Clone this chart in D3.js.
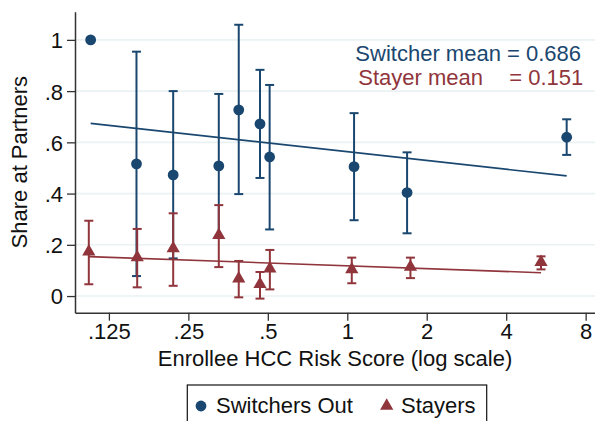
<!DOCTYPE html>
<html>
<head>
<meta charset="utf-8">
<script src="https://cdn.jsdelivr.net/npm/d3@7"></script>
<style>
  html, body { margin: 0; padding: 0; background: #fff; }
  svg { display: block; font-family: "Liberation Sans", Arial, Helvetica, sans-serif; }
</style>
</head>
<body>
<svg id="chart" width="595" height="421"></svg>
<script>
// Risk-score bins (enrollee HCC risk score, log scale) and share of claims at partner providers
const switcherScore = [0.1066, 0.159, 0.219, 0.326, 0.388, 0.467, 0.508, 1.061, 1.685, 6.78];
const switcherShare = [1.000, 0.516, 0.473, 0.508, 0.727, 0.672, 0.543, 0.505, 0.404, 0.620];
const switcherLo    = [null, 0.078, 0.147, 0.227, 0.398, 0.461, 0.260, 0.296, 0.245, 0.551];
const switcherHi    = [null, 0.954, 0.800, 0.789, 1.059, 0.883, 0.824, 0.714, 0.561, 0.690];

const stayerScore = [0.1049, 0.160, 0.219, 0.326, 0.388, 0.467, 0.509, 1.040, 1.735, 5.42];
const stayerShare = [0.173, 0.151, 0.186, 0.238, 0.068, 0.046, 0.107, 0.104, 0.114, 0.132];
const stayerLo    = [0.046, 0.034, 0.040, 0.113, -0.005, -0.010, 0.026, 0.050, 0.070, 0.104];
const stayerHi    = [0.294, 0.262, 0.323, 0.355, 0.137, 0.094, 0.180, 0.150, 0.150, 0.155];

// Fitted values at the lowest and highest bin of each group
const switcherFit = [0.674, 0.469];
const stayerFit   = [0.154, 0.091];

const switcherMean = "0.686";
const stayerMean   = "0.151";

const xTicks = [0.125, 0.25, 0.5, 1, 2, 4, 8];
const xTickLabels = [".125", ".25", ".5", "1", "2", "4", "8"];
const yTicks = [0, 0.2, 0.4, 0.6, 0.8, 1];
const yTickLabels = ["0", ".2", ".4", ".6", ".8", "1"];

const BLUE = "#1a476f";
const RED = "#90353b";
const GRID = "#eaf2f3";
const FONT = 22;

const svg = d3.select("#chart");

const plot = { left: 75, right: 595, top: 11.7, bottom: 312.7 };

const x = d3.scaleLog().base(2).domain([0.093, 8.68]).range([plot.left, plot.right]);
const y = d3.scaleLinear().domain([-0.065, 1.11]).range([plot.bottom, plot.top]);

// Horizontal gridlines
svg.append("g").selectAll("line").data(yTicks).join("line")
  .attr("x1", plot.left).attr("x2", plot.right)
  .attr("y1", d => y(d)).attr("y2", d => y(d))
  .attr("stroke", GRID).attr("stroke-width", 1.6);

// Axes
const xAxis = d3.axisBottom(x).tickValues(xTicks)
  .tickFormat((d, i) => xTickLabels[i]).tickSizeInner(8).tickSizeOuter(0).tickPadding(3);
const gx = svg.append("g").attr("transform", `translate(0,${plot.bottom})`).call(xAxis);

const yAxis = d3.axisLeft(y).tickValues(yTicks)
  .tickFormat((d, i) => yTickLabels[i]).tickSizeInner(8).tickSizeOuter(0).tickPadding(4);
const gy = svg.append("g").attr("transform", `translate(${plot.left},0)`).call(yAxis);

[gx, gy].forEach(g => {
  g.select(".domain").attr("stroke", "#333").attr("stroke-width", 1.5);
  g.selectAll(".tick line").attr("stroke", "#333").attr("stroke-width", 1.3);
  g.selectAll(".tick text").attr("font-size", FONT).attr("fill", "#111")
    .attr("font-family", "Liberation Sans, Arial, sans-serif");
});
gy.selectAll(".tick text").attr("dy", "0.36em");

// Axis titles
svg.append("text")
  .attr("x", (plot.left + plot.right) / 2).attr("y", 366)
  .attr("text-anchor", "middle").attr("font-size", FONT).attr("fill", "#111")
  .text("Enrollee HCC Risk Score (log scale)");

svg.append("text")
  .attr("transform", `translate(27,${(plot.top + plot.bottom) / 2}) rotate(-90)`)
  .attr("text-anchor", "middle").attr("font-size", FONT).attr("fill", "#111")
  .text("Share at Partners");

// Group data into records
const switchers = switcherScore.map((s, i) => ({ s, v: switcherShare[i], lo: switcherLo[i], hi: switcherHi[i] }));
const stayers = stayerScore.map((s, i) => ({ s, v: stayerShare[i], lo: stayerLo[i], hi: stayerHi[i] }));

function drawCaps(data, color) {
  const g = svg.append("g").attr("stroke", color).attr("stroke-width", 2).attr("fill", "none");
  const capHalf = 4.5;
  data.filter(d => d.lo != null).forEach(d => {
    const cx = x(d.s);
    g.append("line").attr("x1", cx).attr("x2", cx).attr("y1", y(d.lo)).attr("y2", y(d.hi));
    g.append("line").attr("x1", cx - capHalf).attr("x2", cx + capHalf).attr("y1", y(d.lo)).attr("y2", y(d.lo));
    g.append("line").attr("x1", cx - capHalf).attr("x2", cx + capHalf).attr("y1", y(d.hi)).attr("y2", y(d.hi));
  });
}

function drawFit(data, fit, color) {
  const ext = d3.extent(data, d => d.s);
  svg.append("line")
    .attr("x1", x(ext[0])).attr("y1", y(fit[0]))
    .attr("x2", x(ext[1])).attr("y2", y(fit[1]))
    .attr("stroke", color).attr("stroke-width", 1.6);
}

const triangle = d3.symbol().type(d3.symbolTriangle).size(76);

drawCaps(switchers, BLUE);
drawCaps(stayers, RED);
drawFit(switchers, switcherFit, BLUE);
drawFit(stayers, stayerFit, RED);

svg.append("g").selectAll("circle").data(switchers).join("circle")
  .attr("cx", d => x(d.s)).attr("cy", d => y(d.v)).attr("r", 5.4)
  .attr("fill", BLUE);

svg.append("g").selectAll("path").data(stayers).join("path")
  .attr("d", triangle)
  .attr("transform", d => `translate(${x(d.s)},${y(d.v)})`)
  .attr("fill", RED);

// Group means
svg.append("text").attr("x", 581).attr("y", 61).attr("text-anchor", "end")
  .attr("font-size", FONT).attr("fill", BLUE).text("Switcher mean = " + switcherMean);
svg.append("text").attr("x", 358.3).attr("y", 85).attr("text-anchor", "start")
  .attr("font-size", FONT).attr("fill", RED).text("Stayer mean");
svg.append("text").attr("x", 583.3).attr("y", 85).attr("text-anchor", "end")
  .attr("font-size", FONT).attr("fill", RED).text("= " + stayerMean);

// Legend
const legend = svg.append("g");
legend.append("rect").attr("x", 187.3).attr("y", 385).attr("width", 299.4).attr("height", 50)
  .attr("fill", "#fff").attr("stroke", "#111").attr("stroke-width", 1.2);
legend.append("circle").attr("cx", 201).attr("cy", 406).attr("r", 5.4).attr("fill", BLUE);
legend.append("text").attr("x", 216).attr("y", 413).attr("font-size", FONT).attr("fill", "#111")
  .text("Switchers Out");
legend.append("path").attr("d", triangle).attr("transform", "translate(386.7,406)").attr("fill", RED);
legend.append("text").attr("x", 401).attr("y", 413).attr("font-size", FONT).attr("fill", "#111")
  .text("Stayers");
</script>
</body>
</html>
